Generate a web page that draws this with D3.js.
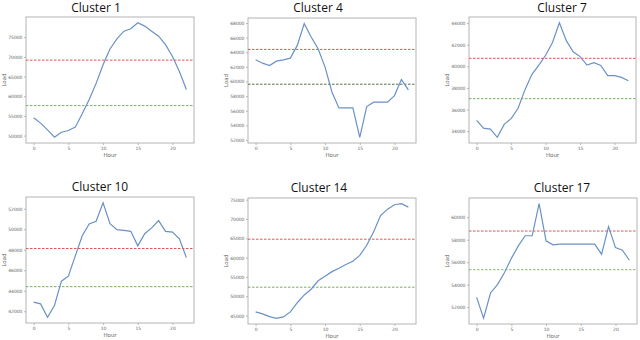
<!DOCTYPE html>
<html>
<head>
<meta charset="utf-8">
<script src="https://cdn.jsdelivr.net/npm/d3@7"></script>
<style>
  body { margin: 0; background: #fff; }
  svg { display: block; }
  .tick text { font-family: "DejaVu Sans", sans-serif; font-size: 4.5px; fill: #666; }
  .lbl { font-family: "DejaVu Sans", sans-serif; font-size: 5.5px; fill: #666; }
  .ttl { font-family: "Open Sans", "Noto Sans", sans-serif; font-size: 12px; fill: #111; }
</style>
</head>
<body>
<div id="chart"></div>
<script>
const width = 640;
const height = 340;

const hours = d3.range(0, 23);
const titles = ["Cluster 1", "Cluster 4", "Cluster 7", "Cluster 10", "Cluster 14", "Cluster 17"];

const cluster1 = [54540, 53170, 51460, 49570, 50860, 51280, 52140, 55560, 59160, 63270, 67980, 72000,
  74570, 76540, 77140, 78680, 77820, 76540, 75250, 73110, 70120, 66260, 61730];
const cluster4 = [62970, 62510, 62190, 62790, 62970, 63200, 64940, 67910, 66080, 64480, 61970, 58540,
  56390, 56390, 56390, 52370, 56570, 57170, 57170, 57170, 58080, 60270, 58860];
const cluster7 = [35000, 34280, 34190, 33440, 34630, 35160, 36100, 37820, 39240, 40080, 41020, 42210,
  44030, 42370, 41340, 40900, 40110, 40330, 40080, 39140, 39140, 38980, 38670];
const cluster10 = [42890, 42720, 41410, 42560, 44930, 45420, 47400, 49370, 50520, 50780, 52590, 50550,
  49960, 49900, 49800, 48380, 49570, 50130, 50850, 49800, 49730, 49070, 47230];
const cluster14 = [45960, 45440, 44740, 44300, 44650, 45960, 48320, 50340, 51820, 54010, 55150, 56370,
  57240, 58210, 59080, 60570, 63190, 66690, 70890, 72550, 73690, 73950, 73080];
const cluster17 = [52870, 51010, 53260, 54010, 55060, 56340, 57450, 58350, 58350, 61200, 57900, 57540,
  57610, 57610, 57610, 57610, 57610, 57610, 56710, 59160, 57300, 57070, 56170];

const series = [cluster1, cluster4, cluster7, cluster10, cluster14, cluster17];
const upperLines = [69170, 64390, 40740, 48120, 64770, 58770];
const lowerLines = [57620, 59630, 37010, 44400, 52350, 55330];

const xTicks = [0, 5, 10, 15, 20];
const yTicks = [
  [50000, 55000, 60000, 65000, 70000, 75000],
  [52000, 54000, 56000, 58000, 60000, 62000, 64000, 66000, 68000],
  [34000, 36000, 38000, 40000, 42000, 44000],
  [42000, 44000, 46000, 48000, 50000, 52000],
  [45000, 50000, 55000, 60000, 65000, 70000, 75000],
  [52000, 54000, 56000, 58000, 60000]
];

// axes boxes: left, right, top, bottom, title centre
const boxes = [
  { l: 26, r: 194, t: 17, b: 143, tx: 96, ty: 12 },
  { l: 248, r: 416, t: 18, b: 143, tx: 318, ty: 12 },
  { l: 469, r: 636, t: 17, b: 143, tx: 562, ty: 12 },
  { l: 26, r: 194, t: 197, b: 323, tx: 100, ty: 191 },
  { l: 248, r: 416, t: 198, b: 324, tx: 319, ty: 192 },
  { l: 469, r: 637, t: 198, b: 324, tx: 562, ty: 192 }
];
const lowerColors = ["#78ae5e", "#4f7347", "#78ae5e", "#78ae5e", "#78ae5e", "#8ab870"];

const svg = d3.select("#chart").append("svg")
  .attr("width", width)
  .attr("height", height);

series.forEach((vals, i) => {
  const box = boxes[i];
  const g = svg.append("g");

  const x = d3.scaleLinear()
    .domain([-1.1, 23.1])
    .range([box.l, box.r]);

  const [lo, hi] = d3.extent(vals);
  const pad = (hi - lo) * 0.05;
  const y = d3.scaleLinear()
    .domain([lo - pad, hi + pad])
    .range([box.b, box.t]);

  // title
  g.append("text")
    .attr("class", "ttl")
    .attr("x", box.tx)
    .attr("y", box.ty)
    .attr("text-anchor", "middle")
    .text(titles[i]);

  // axes
  const xAxis = g.append("g")
    .attr("transform", `translate(0, ${box.b})`)
    .call(d3.axisBottom(x).tickValues(xTicks).tickSize(2).tickPadding(1.5));
  const yAxis = g.append("g")
    .attr("transform", `translate(${box.l}, 0)`)
    .call(d3.axisLeft(y).tickValues(yTicks[i]).tickFormat(d3.format("d")).tickSize(2).tickPadding(1.5));
  [xAxis, yAxis].forEach((a) => {
    a.select(".domain").remove();
    a.selectAll(".tick line").attr("stroke", "#888").attr("stroke-width", 0.6);
  });

  // frame
  g.append("rect")
    .attr("x", box.l)
    .attr("y", box.t)
    .attr("width", box.r - box.l)
    .attr("height", box.b - box.t)
    .attr("fill", "none")
    .attr("stroke", "#b4b4b4")
    .attr("stroke-width", 1);

  // axis labels
  g.append("text")
    .attr("class", "lbl")
    .attr("x", (box.l + box.r) / 2)
    .attr("y", box.b + 14)
    .attr("text-anchor", "middle")
    .text("Hour");
  g.append("text")
    .attr("class", "lbl")
    .attr("transform", `translate(${box.l - 20}, ${(box.t + box.b) / 2}) rotate(-90)`)
    .attr("text-anchor", "middle")
    .text("Load");

  // threshold lines
  g.append("line")
    .attr("x1", box.l).attr("x2", box.r)
    .attr("y1", y(upperLines[i])).attr("y2", y(upperLines[i]))
    .attr("stroke", "#e05555")
    .attr("stroke-width", 1)
    .attr("stroke-dasharray", "2.5,1.5");
  g.append("line")
    .attr("x1", box.l).attr("x2", box.r)
    .attr("y1", y(lowerLines[i])).attr("y2", y(lowerLines[i]))
    .attr("stroke", lowerColors[i])
    .attr("stroke-width", 1)
    .attr("stroke-dasharray", "2.5,1.5");

  // load curve
  g.append("path")
    .datum(vals)
    .attr("fill", "none")
    .attr("stroke", "#6b91c4")
    .attr("stroke-width", 1.2)
    .attr("d", d3.line().x((d, j) => x(hours[j])).y((d) => y(d)));
});
</script>
</body>
</html>
